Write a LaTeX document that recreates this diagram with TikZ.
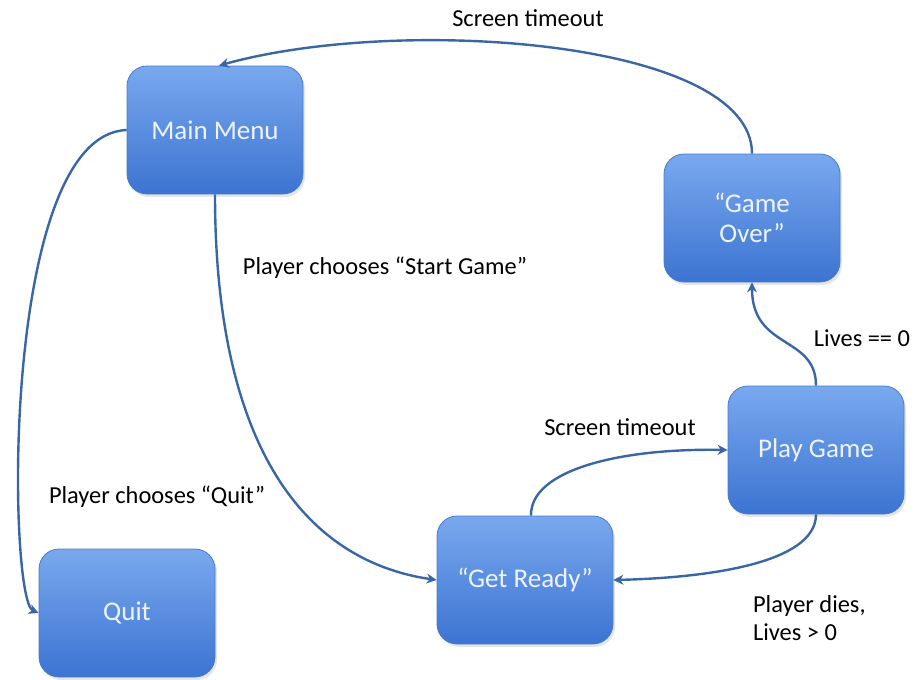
\documentclass[tikz,border=0pt]{standalone}
\usepackage{fontspec}
\setmainfont{Carlito}
\usepackage{tikz}
\usepackage{xcolor}
\usetikzlibrary{arrows.meta,shadows}
\definecolor{boxtop}{HTML}{79A8EE}
\definecolor{boxbottom}{HTML}{3C74D2}
\definecolor{boxline}{HTML}{4A7BC8}
\definecolor{edgeblue}{HTML}{3A67A3}
\definecolor{boxtext}{HTML}{EEF4FF}
\tikzset{
    state-box/.style = {draw=boxline, thin, rectangle, rounded corners=10pt, top color=boxtop, bottom color=boxbottom,
        minimum width=88pt, minimum height=64pt, inner sep=0pt, align=center, text=boxtext,
        font=\fontsize{13.5}{15}\selectfont, drop shadow={opacity=0.2, shadow xshift=1pt, shadow yshift=-1.5pt}},
    edge-line/.style = {draw=edgeblue, line width=1.2pt, -{Stealth[length=5pt,width=5pt]}},
    edge-label/.style = {text=black, font=\fontsize{12.2}{14}\selectfont, align=left},
}

\begin{document}
\begin{tikzpicture}[x=0.5pt, y=-0.5pt]
\useasboundingbox (0,0) rectangle (916,680);
% states
\node [state-box] (menu) at (215,130) {Main Menu};
\node [state-box] (over) at (752,218) {“Game\\Over”};
\node [state-box] (play) at (816,450) {Play Game};
\node [state-box] (ready) at (525,580) {“Get Ready”};
\node [state-box] (quit) at (127,613) {Quit};
% transitions
\draw [edge-line] (over.north) .. controls (752,40) and (400,15) .. ([xshift=2pt]menu.north);
\draw [edge-line] (menu.west) .. controls (0,135) and (8,600) .. (quit.west);
\draw [edge-line] (menu.south) .. controls (215,440) and (300,560) .. (ready.west);
\draw [edge-line] ([xshift=3pt]ready.north) .. controls (530,470) and (620,448) .. (play.west);
\draw [edge-line] (play.south) .. controls (816,565) and (700,578) .. (ready.east);
\draw [edge-line] (play.north) .. controls (816,335) and (752,350) .. (over.south);
% labels
\node [edge-label] (lbl-timeout-top) at (528,18) {Screen timeout};
\node [edge-label] (lbl-start) at (385,268) {Player chooses “Start Game”};
\node [edge-label] (lbl-quit) at (157,497) {Player chooses “Quit”};
\node [edge-label] (lbl-timeout) at (620,427) {Screen timeout};
\node [edge-label] (lbl-zero) at (862,338) {Lives == 0};
\node [edge-label, anchor=west] (lbl-dies) at (746,618) {Player dies,\\Lives > 0};
\end{tikzpicture}
\end{document}
